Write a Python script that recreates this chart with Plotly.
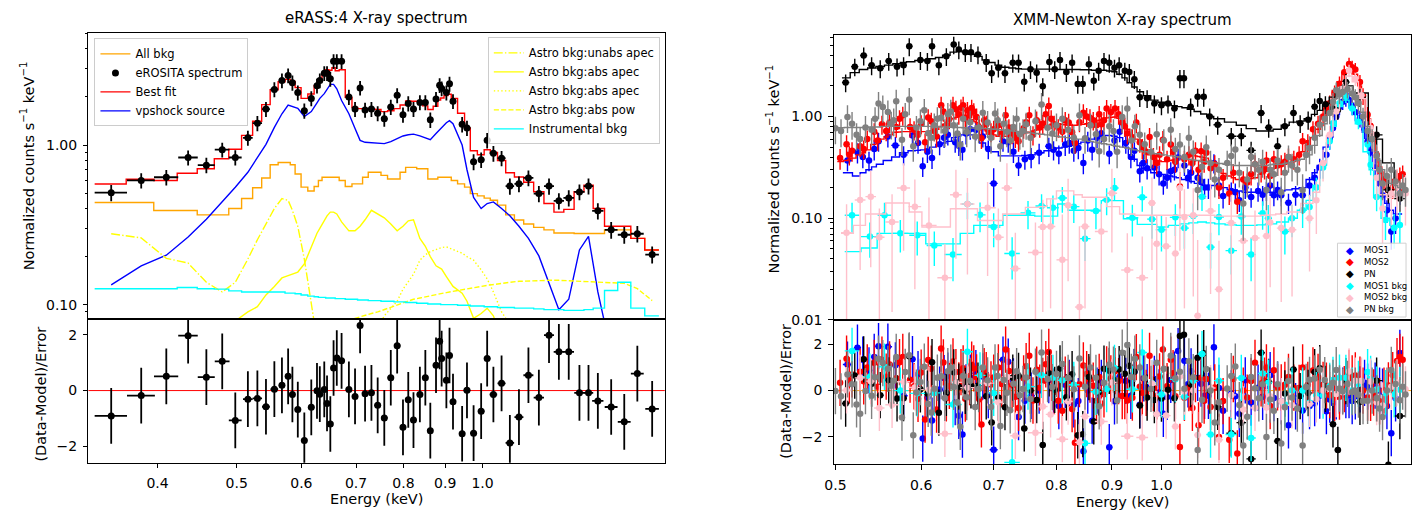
import plotly.graph_objects as go

# ---------------- eRASS:4 (eROSITA) spectrum ----------------
E_ero = [0.351, 0.382, 0.410, 0.436, 0.459, 0.480, 0.498, 0.516, 0.530, 0.543,
         0.556, 0.568, 0.578, 0.585, 0.594, 0.605, 0.617, 0.627, 0.632, 0.640,
         0.645, 0.651, 0.657, 0.663, 0.672, 0.686, 0.698, 0.708, 0.718, 0.731,
         0.744, 0.758, 0.772, 0.786, 0.799, 0.811, 0.823, 0.838, 0.851, 0.863,
         0.877, 0.886, 0.891, 0.903, 0.911, 0.920, 0.944, 0.957, 0.975, 0.996,
         1.013, 1.031, 1.055, 1.080, 1.108, 1.138, 1.172, 1.206, 1.240, 1.275,
         1.314, 1.348, 1.384, 1.437, 1.491, 1.547, 1.613]
dE_ero = [0.016, 0.015, 0.014, 0.012, 0.011, 0.010, 0.009, 0.007, 0.007, 0.006,
          0.006, 0.005, 0.004, 0.004, 0.005, 0.005, 0.005, 0.004, 0.003, 0.003,
          0.003, 0.003, 0.003, 0.004, 0.006, 0.006, 0.005, 0.005, 0.006, 0.006,
          0.007, 0.007, 0.007, 0.007, 0.006, 0.006, 0.007, 0.007, 0.006, 0.006,
          0.006, 0.004, 0.004, 0.005, 0.004, 0.006, 0.008, 0.009, 0.009, 0.009,
          0.009, 0.011, 0.012, 0.013, 0.014, 0.016, 0.017, 0.017, 0.018, 0.019,
          0.019, 0.018, 0.022, 0.026, 0.027, 0.028, 0.031]
flux_ero = [0.503, 0.600, 0.628, 0.835, 0.748, 0.935, 0.835, 1.11, 1.37, 1.68,
            2.23, 2.54, 2.73, 2.46, 2.13, 1.64, 1.96, 2.35, 2.54, 2.82,
            2.82, 2.60, 3.35, 3.35, 3.35, 2.00, 1.68, 2.28, 1.66, 1.68,
            1.58, 1.46, 1.73, 2.05, 1.55, 1.82, 1.68, 1.85, 1.85, 1.44,
            1.94, 2.37, 2.26, 2.13, 2.42, 1.88, 1.35, 1.28, 0.785, 0.808,
            1.07, 0.887, 0.827, 0.553, 0.571, 0.622, 0.496, 0.553, 0.447, 0.466,
            0.508, 0.553, 0.387, 0.294, 0.274, 0.278, 0.206]
err_ero = [0.058, 0.066, 0.07, 0.09, 0.083, 0.10, 0.092, 0.12, 0.15, 0.18,
           0.24, 0.27, 0.29, 0.27, 0.23, 0.18, 0.21, 0.25, 0.27, 0.30,
           0.30, 0.28, 0.35, 0.35, 0.35, 0.22, 0.18, 0.24, 0.18, 0.18,
           0.17, 0.16, 0.19, 0.22, 0.17, 0.2, 0.18, 0.2, 0.2, 0.16,
           0.21, 0.25, 0.24, 0.23, 0.26, 0.2, 0.15, 0.14, 0.09, 0.09,
           0.12, 0.1, 0.09, 0.065, 0.065, 0.07, 0.058, 0.065, 0.052, 0.054,
           0.058, 0.063, 0.045, 0.035, 0.033, 0.033, 0.025]
resid_ero = [-0.91, -0.18, 0.51, 1.97, 0.48, 1.05, -1.07, -0.31, -0.28, -0.58,
             0.05, 0.19, 0.51, -0.14, -0.68, -1.79, -0.60, -0.01, -0.13, 0.04,
             -0.46, -1.20, 0.81, 1.17, 1.07, 0.04, -0.21, 2.34, -0.11, -0.08,
             -0.53, -0.98, 0.46, 1.61, -1.32, -0.33, -1.06, -0.14, 0.46, -1.44,
             0.91, 1.77, 1.15, 0.37, 1.26, -0.40, -1.55, 0.01, -1.53, -0.74,
             1.15, -0.14, 0.26, -1.88, -0.95, 0.55, -0.25, 1.99, 1.39, 1.39,
             -0.08, -0.08, -0.37, -0.59, -1.12, 0.61, -0.66]
fit_ero = [0.57, 0.61, 0.60, 0.665, 0.71, 0.82, 0.94, 1.15, 1.41, 1.79,
           2.22, 2.49, 2.58, 2.50, 2.29, 1.96, 2.09, 2.35, 2.58, 2.81,
           2.96, 2.94, 3.05, 2.92, 2.96, 1.99, 1.72, 1.69, 1.68, 1.69,
           1.67, 1.62, 1.64, 1.69, 1.78, 1.89, 1.88, 1.88, 1.76, 1.67,
           1.75, 1.91, 1.97, 2.04, 2.08, 1.96, 1.58, 1.28, 0.92, 0.87,
           0.935, 0.90, 0.80, 0.67, 0.63, 0.585, 0.51, 0.43, 0.38, 0.395,
           0.51, 0.56, 0.40, 0.31, 0.31, 0.26, 0.22]
bkg_all_ero = [0.436, 0.436, 0.389, 0.389, 0.365, 0.365, 0.40, 0.462, 0.54, 0.622,
               0.752, 0.777, 0.777, 0.752, 0.659, 0.545, 0.515, 0.55, 0.60, 0.628,
               0.628, 0.628, 0.628, 0.628, 0.60, 0.55, 0.571, 0.571, 0.628, 0.675,
               0.675, 0.645, 0.613, 0.613, 0.675, 0.724, 0.724, 0.71, 0.71, 0.613,
               0.613, 0.628, 0.628, 0.628, 0.628, 0.60, 0.571, 0.545, 0.496, 0.48,
               0.465, 0.451, 0.42, 0.365, 0.339, 0.32, 0.305, 0.294, 0.281, 0.281,
               0.279, 0.279, 0.279, 0.294, 0.294, 0.26, 0.22]
bkg_instr_ero = [0.1256, 0.1256, 0.1256, 0.128, 0.1256, 0.125, 0.122, 0.12, 0.12, 0.12,
                 0.12, 0.12, 0.118, 0.118, 0.117, 0.115, 0.113, 0.112, 0.111, 0.111,
                 0.110, 0.110, 0.110, 0.109, 0.109, 0.108, 0.108, 0.107, 0.107, 0.106,
                 0.106, 0.105, 0.105, 0.104, 0.104, 0.103, 0.103, 0.102, 0.102, 0.101,
                 0.101, 0.101, 0.100, 0.100, 0.100, 0.100, 0.099, 0.099, 0.098, 0.098,
                 0.097, 0.097, 0.096, 0.096, 0.095, 0.095, 0.094, 0.093, 0.093, 0.092,
                 0.092, 0.093, 0.095, 0.1225, 0.138, 0.095, 0.085]
vpshock_ero = [0.133, 0.175, 0.204, 0.265, 0.343, 0.44, 0.544, 0.675, 0.84, 1.01,
               1.29, 1.57, 1.78, 1.75, 1.70, 1.51, 1.62, 1.84, 1.96, 2.10,
               2.22, 2.40, 2.40, 2.25, 1.90, 1.57, 1.27, 1.07, 1.04, 1.03,
               1.02, 1.02, 1.05, 1.09, 1.14, 1.16, 1.17, 1.14, 1.11, 1.08,
               1.18, 1.25, 1.30, 1.38, 1.42, 1.36, 1.0, 0.70, 0.47, 0.40,
               0.43, 0.44, 0.40, 0.36, 0.31, 0.26, 0.202, 0.138, 0.093, 0.108,
               0.22, 0.268, 0.12, 0.05, 0.03, 0.02, 0.012]
astro_unabs_apec = [0.278, 0.262, 0.195, 0.182, 0.138, 0.12, 0.138, 0.193, 0.255, 0.324,
                    0.40, 0.462, 0.45, 0.39, 0.309, 0.193, 0.104, 0.06, 0.035]
astro_abs_apec = [0.02, 0.025, 0.03, 0.04, 0.05, 0.06, 0.079, 0.09, 0.097, 0.115,
                  0.13, 0.147, 0.152, 0.155, 0.16, 0.18, 0.23, 0.28, 0.30, 0.34,
                  0.36, 0.38, 0.38, 0.37, 0.33, 0.29, 0.29, 0.31, 0.34, 0.39,
                  0.37, 0.35, 0.32, 0.29, 0.31, 0.335, 0.34, 0.26, 0.232, 0.20,
                  0.175, 0.17, 0.167, 0.15, 0.14, 0.13, 0.118, 0.105, 0.082, 0.088,
                  0.095, 0.085, 0.06, 0.045, 0.035, 0.03, 0.025, 0.02, 0.018, 0.016,
                  0.015, 0.014, 0.013, 0.012, 0.011, 0.010, 0.009]
astro_abs_apec_hot = [0.005, 0.006, 0.007, 0.008, 0.009, 0.01, 0.011, 0.012, 0.013, 0.014,
                      0.016, 0.018, 0.02, 0.021, 0.023, 0.025, 0.027, 0.029, 0.031, 0.033,
                      0.035, 0.037, 0.039, 0.041, 0.044, 0.048, 0.052, 0.056, 0.06, 0.066,
                      0.072, 0.085, 0.095, 0.105, 0.125, 0.14, 0.155, 0.19, 0.205, 0.215,
                      0.222, 0.226, 0.228, 0.23, 0.226, 0.222, 0.21, 0.20, 0.19, 0.165,
                      0.145, 0.12, 0.09, 0.075, 0.06, 0.05, 0.04, 0.03, 0.025, 0.02,
                      0.016, 0.013, 0.011, 0.009, 0.008, 0.007, 0.006]
astro_abs_pow = [0.01, 0.012, 0.015, 0.018, 0.02, 0.023, 0.026, 0.03, 0.033, 0.036,
                 0.04, 0.043, 0.045, 0.047, 0.05, 0.053, 0.056, 0.059, 0.061, 0.063,
                 0.065, 0.067, 0.069, 0.072, 0.076, 0.08, 0.082, 0.084, 0.086, 0.088,
                 0.09, 0.093, 0.096, 0.099, 0.102, 0.105, 0.108, 0.11, 0.112, 0.114,
                 0.116, 0.117, 0.118, 0.119, 0.12, 0.121, 0.123, 0.125, 0.127, 0.13,
                 0.132, 0.134, 0.136, 0.138, 0.14, 0.141, 0.142, 0.142, 0.142, 0.141,
                 0.141, 0.14, 0.139, 0.138, 0.136, 0.126, 0.106]

# ---------------- XMM-Newton spectra ----------------
# MOS1
E_m1 = [0.513, 0.524, 0.530, 0.537, 0.543, 0.548, 0.559, 0.568, 0.578, 0.589,
        0.596, 0.602, 0.608, 0.614, 0.624, 0.630, 0.635, 0.645, 0.650, 0.655,
        0.660, 0.666, 0.674, 0.684, 0.692, 0.700, 0.714, 0.722, 0.730, 0.738,
        0.748, 0.758, 0.771, 0.787, 0.795, 0.804, 0.815, 0.822, 0.830, 0.838,
        0.847, 0.855, 0.863, 0.872, 0.880, 0.895, 0.905, 0.915, 0.927, 0.937,
        0.944, 0.955, 0.962, 0.970, 0.985, 0.995, 1.004, 1.012, 1.020, 1.028,
        1.036, 1.050, 1.058, 1.065, 1.080, 1.088, 1.096, 1.105, 1.118, 1.130,
        1.140, 1.160, 1.170, 1.180, 1.195, 1.210, 1.228, 1.240, 1.250, 1.260,
        1.270, 1.280, 1.290, 1.310, 1.330, 1.350, 1.370, 1.385, 1.400, 1.420,
        1.430, 1.440, 1.450, 1.460, 1.470, 1.480, 1.490, 1.500, 1.510, 1.525,
        1.540, 1.550, 1.560, 1.575, 1.590, 1.600, 1.615, 1.630, 1.645, 1.660]
dE_m1 = [0.005, 0.004, 0.003, 0.003, 0.003, 0.004, 0.005, 0.005, 0.005, 0.004,
         0.004, 0.003, 0.003, 0.004, 0.004, 0.003, 0.004, 0.004, 0.003, 0.003,
         0.003, 0.004, 0.005, 0.005, 0.005, 0.006, 0.006, 0.004, 0.004, 0.005,
         0.005, 0.006, 0.007, 0.006, 0.004, 0.005, 0.005, 0.004, 0.004, 0.004,
         0.004, 0.004, 0.004, 0.004, 0.006, 0.006, 0.005, 0.006, 0.006, 0.005,
         0.004, 0.004, 0.004, 0.006, 0.006, 0.005, 0.004, 0.004, 0.004, 0.004,
         0.006, 0.006, 0.004, 0.006, 0.004, 0.004, 0.004, 0.005, 0.006, 0.006,
         0.008, 0.008, 0.006, 0.006, 0.008, 0.008, 0.008, 0.006, 0.005, 0.005,
         0.005, 0.005, 0.008, 0.01, 0.01, 0.01, 0.008, 0.008, 0.008, 0.006,
         0.005, 0.005, 0.005, 0.005, 0.005, 0.005, 0.005, 0.005, 0.006, 0.007,
         0.006, 0.005, 0.006, 0.006, 0.006, 0.006, 0.007, 0.007, 0.007, 0.008]
flux_m1 = [0.37, 0.445, 0.40, 0.37, 0.48, 0.57, 0.635, 0.52, 0.42, 0.65,
           0.55, 0.325, 0.45, 0.39, 0.535, 0.62, 0.66, 0.56, 0.52, 0.47,
           0.68, 0.75, 0.74, 0.635, 0.48, 0.22, 0.57, 0.56, 0.45, 0.33,
           0.38, 0.40, 0.44, 0.51, 0.47, 0.43, 0.53, 0.55, 0.46, 0.49,
           0.35, 0.58, 0.47, 0.62, 0.685, 0.43, 0.58, 0.71, 0.55, 0.40,
           0.46, 0.29, 0.35, 0.31, 0.315, 0.27, 0.22, 0.25, 0.29, 0.30,
           0.395, 0.33, 0.25, 0.28, 0.25, 0.23, 0.20, 0.20, 0.35, 0.21,
           0.165, 0.185, 0.18, 0.15, 0.20, 0.162, 0.185, 0.17, 0.188, 0.21,
           0.168, 0.19, 0.168, 0.142, 0.17, 0.168, 0.21, 0.25, 0.315, 0.42,
           0.6, 0.77, 1.0, 1.25, 1.4, 1.50, 1.45, 1.25, 1.1, 0.96,
           0.75, 0.57, 0.45, 0.315, 0.22, 0.168, 0.12, 0.074, 0.1, 0.175]
err_m1 = [0.08, 0.1, 0.09, 0.08, 0.11, 0.12, 0.14, 0.11, 0.09, 0.14,
          0.12, 0.07, 0.1, 0.085, 0.12, 0.13, 0.14, 0.12, 0.11, 0.1,
          0.15, 0.16, 0.16, 0.14, 0.1, 0.09, 0.12, 0.12, 0.1, 0.07,
          0.08, 0.09, 0.1, 0.11, 0.1, 0.09, 0.12, 0.12, 0.1, 0.11,
          0.08, 0.13, 0.1, 0.13, 0.15, 0.09, 0.13, 0.15, 0.12, 0.09,
          0.1, 0.065, 0.075, 0.07, 0.07, 0.06, 0.05, 0.055, 0.065, 0.065,
          0.085, 0.07, 0.055, 0.06, 0.055, 0.05, 0.045, 0.045, 0.075, 0.045,
          0.04, 0.04, 0.04, 0.035, 0.045, 0.035, 0.04, 0.037, 0.04, 0.045,
          0.037, 0.04, 0.037, 0.032, 0.037, 0.037, 0.045, 0.055, 0.07, 0.09,
          0.13, 0.15, 0.2, 0.22, 0.24, 0.25, 0.25, 0.22, 0.2, 0.18,
          0.15, 0.12, 0.1, 0.07, 0.05, 0.04, 0.03, 0.025, 0.03, 0.04]
model_m1 = [0.28, 0.26, 0.28, 0.30, 0.32, 0.34, 0.37, 0.40, 0.44, 0.46,
            0.465, 0.47, 0.48, 0.50, 0.53, 0.55, 0.57, 0.62, 0.64, 0.66,
            0.66, 0.66, 0.62, 0.55, 0.50, 0.45, 0.41, 0.41, 0.41, 0.41,
            0.415, 0.42, 0.44, 0.46, 0.475, 0.49, 0.50, 0.51, 0.52, 0.54,
            0.56, 0.58, 0.60, 0.62, 0.635, 0.65, 0.64, 0.62, 0.50, 0.42,
            0.38, 0.33, 0.31, 0.30, 0.28, 0.275, 0.27, 0.265, 0.26, 0.255,
            0.25, 0.24, 0.235, 0.23, 0.22, 0.215, 0.21, 0.21, 0.21, 0.205,
            0.20, 0.19, 0.19, 0.185, 0.18, 0.18, 0.18, 0.18, 0.18, 0.18,
            0.18, 0.18, 0.185, 0.19, 0.195, 0.20, 0.24, 0.28, 0.33, 0.50,
            0.65, 0.85, 1.05, 1.25, 1.4, 1.55, 1.5, 1.35, 1.15, 0.95,
            0.7, 0.55, 0.42, 0.30, 0.22, 0.17, 0.14, 0.12, 0.11, 0.11]

# MOS2
E_m2 = [0.505, 0.512, 0.515, 0.518, 0.527, 0.531, 0.535, 0.543, 0.547, 0.552,
        0.557, 0.561, 0.569, 0.573, 0.577, 0.586, 0.591, 0.596, 0.600, 0.605,
        0.609, 0.613, 0.617, 0.620, 0.626, 0.629, 0.633, 0.637, 0.642, 0.646,
        0.650, 0.653, 0.656, 0.659, 0.662, 0.665, 0.668, 0.671, 0.675, 0.679,
        0.682, 0.686, 0.689, 0.696, 0.700, 0.707, 0.712, 0.718, 0.723, 0.728,
        0.733, 0.738, 0.746, 0.750, 0.755, 0.761, 0.767, 0.772, 0.777, 0.782,
        0.787, 0.791, 0.796, 0.803, 0.810, 0.815, 0.821, 0.827, 0.832, 0.840,
        0.847, 0.853, 0.859, 0.865, 0.871, 0.876, 0.880, 0.885, 0.890, 0.898,
        0.906, 0.913, 0.920, 0.925, 0.930, 0.940, 0.948, 0.955, 0.960, 0.968,
        0.975, 0.983, 0.990, 0.996, 1.003, 1.012, 1.020, 1.025, 1.030, 1.040,
        1.050, 1.060, 1.068, 1.075, 1.082, 1.088, 1.095, 1.100, 1.110, 1.120,
        1.130, 1.140, 1.155, 1.165, 1.175, 1.190, 1.200, 1.210, 1.220, 1.236,
        1.245, 1.250, 1.260, 1.270, 1.280, 1.290, 1.300, 1.310, 1.325, 1.340,
        1.350, 1.365, 1.380, 1.395, 1.410, 1.420, 1.430, 1.445, 1.460, 1.475,
        1.490, 1.500, 1.510, 1.525, 1.535, 1.550, 1.560, 1.570, 1.580, 1.590,
        1.605, 1.620, 1.635, 1.650, 1.660, 1.670]
dE_m2 = [0.003, 0.003, 0.002, 0.002, 0.003, 0.002, 0.003, 0.003, 0.002, 0.003,
         0.003, 0.003, 0.003, 0.002, 0.003, 0.004, 0.003, 0.003, 0.003, 0.003,
         0.002, 0.002, 0.002, 0.002, 0.002, 0.002, 0.002, 0.002, 0.002, 0.002,
         0.002, 0.002, 0.002, 0.002, 0.002, 0.002, 0.002, 0.002, 0.002, 0.002,
         0.002, 0.002, 0.003, 0.003, 0.003, 0.003, 0.003, 0.003, 0.003, 0.003,
         0.003, 0.004, 0.003, 0.003, 0.003, 0.003, 0.003, 0.003, 0.003, 0.003,
         0.003, 0.003, 0.003, 0.004, 0.003, 0.003, 0.003, 0.003, 0.004, 0.004,
         0.003, 0.003, 0.003, 0.003, 0.003, 0.003, 0.003, 0.003, 0.004, 0.004,
         0.004, 0.003, 0.003, 0.003, 0.004, 0.004, 0.004, 0.003, 0.003, 0.004,
         0.004, 0.004, 0.003, 0.004, 0.004, 0.004, 0.003, 0.003, 0.004, 0.005,
         0.005, 0.004, 0.004, 0.004, 0.003, 0.003, 0.003, 0.004, 0.005, 0.005,
         0.005, 0.006, 0.006, 0.005, 0.006, 0.006, 0.005, 0.005, 0.006, 0.006,
         0.004, 0.004, 0.005, 0.005, 0.005, 0.005, 0.005, 0.006, 0.007, 0.006,
         0.006, 0.007, 0.007, 0.007, 0.006, 0.005, 0.006, 0.007, 0.007, 0.007,
         0.006, 0.005, 0.006, 0.006, 0.006, 0.006, 0.005, 0.005, 0.005, 0.006,
         0.007, 0.007, 0.007, 0.006, 0.005, 0.005]
flux_m2 = [0.39, 0.535, 0.42, 0.46, 0.51, 0.48, 0.60, 0.71, 0.58, 0.84,
           0.72, 0.875, 0.79, 0.95, 1.03, 0.79, 0.74, 0.66, 0.85, 0.56,
           0.98, 0.90, 0.72, 0.635, 1.29, 1.12, 0.82, 0.95, 1.29, 1.18,
           1.05, 1.22, 1.29, 0.95, 1.15, 1.05, 1.21, 1.12, 0.99, 0.78,
           0.61, 0.92, 0.84, 0.71, 0.75, 0.82, 0.68, 1.03, 0.78, 0.685,
           0.62, 0.57, 0.765, 0.88, 1.03, 0.66, 0.92, 0.78, 0.855, 1.05,
           1.27, 0.95, 0.84, 0.78, 0.71, 0.92, 0.875, 0.70, 0.55, 0.88,
           1.09, 1.0, 0.97, 0.92, 0.82, 1.05, 0.84, 0.92, 1.20, 1.1,
           1.20, 1.05, 0.875, 0.80, 0.685, 0.62, 0.875, 0.56, 0.49, 0.45,
           0.63, 0.40, 0.35, 0.42, 0.59, 0.38, 0.53, 0.45, 0.36, 0.205,
           0.38, 0.42, 0.35, 0.46, 0.30, 0.455, 0.36, 0.44, 0.31, 0.34,
           0.20, 0.25, 0.175, 0.28, 0.145, 0.24, 0.225, 0.27, 0.34, 0.29,
           0.31, 0.37, 0.26, 0.38, 0.33, 0.34, 0.36, 0.40, 0.38, 0.42,
           0.57, 0.55, 0.75, 0.85, 1.0, 1.2, 1.35, 1.7, 2.1, 2.73,
           3.28, 3.05, 2.9, 2.18, 1.6, 1.04, 0.8, 0.59, 0.42, 0.29,
           0.24, 0.19, 0.2, 0.24, 0.26, 0.27]
err_m2 = [0.09, 0.12, 0.09, 0.1, 0.11, 0.1, 0.13, 0.15, 0.12, 0.18,
          0.15, 0.19, 0.17, 0.2, 0.22, 0.17, 0.16, 0.14, 0.18, 0.12,
          0.2, 0.19, 0.15, 0.14, 0.27, 0.23, 0.18, 0.2, 0.27, 0.25,
          0.22, 0.25, 0.27, 0.2, 0.24, 0.22, 0.25, 0.23, 0.21, 0.16,
          0.13, 0.19, 0.18, 0.15, 0.16, 0.18, 0.14, 0.22, 0.16, 0.15,
          0.13, 0.12, 0.16, 0.18, 0.22, 0.14, 0.2, 0.16, 0.18, 0.22,
          0.27, 0.2, 0.18, 0.16, 0.15, 0.19, 0.19, 0.15, 0.12, 0.18,
          0.23, 0.21, 0.21, 0.19, 0.18, 0.22, 0.18, 0.19, 0.25, 0.23,
          0.25, 0.22, 0.19, 0.17, 0.15, 0.13, 0.19, 0.12, 0.11, 0.1,
          0.14, 0.09, 0.08, 0.09, 0.13, 0.08, 0.12, 0.1, 0.08, 0.08,
          0.08, 0.09, 0.08, 0.1, 0.07, 0.1, 0.08, 0.1, 0.07, 0.075,
          0.045, 0.055, 0.04, 0.06, 0.035, 0.05, 0.05, 0.06, 0.075, 0.065,
          0.07, 0.08, 0.06, 0.08, 0.07, 0.075, 0.08, 0.085, 0.08, 0.09,
          0.12, 0.12, 0.15, 0.17, 0.2, 0.23, 0.26, 0.32, 0.38, 0.45,
          0.5, 0.48, 0.46, 0.38, 0.3, 0.2, 0.16, 0.12, 0.09, 0.065,
          0.05, 0.045, 0.045, 0.055, 0.055, 0.06]
model_m2 = [0.36, 0.37, 0.38, 0.39, 0.42, 0.44, 0.47, 0.53, 0.56, 0.60,
            0.63, 0.66, 0.70, 0.705, 0.71, 0.71, 0.71, 0.71, 0.71, 0.71,
            0.715, 0.72, 0.73, 0.75, 0.80, 0.84, 0.88, 0.91, 0.95, 0.98,
            1.0, 1.02, 1.03, 1.02, 1.0, 0.97, 0.93, 0.90, 0.87, 0.84,
            0.80, 0.76, 0.72, 0.67, 0.66, 0.64, 0.64, 0.64, 0.645, 0.65,
            0.655, 0.66, 0.68, 0.69, 0.70, 0.72, 0.74, 0.76, 0.78, 0.80,
            0.82, 0.84, 0.85, 0.85, 0.84, 0.83, 0.82, 0.82, 0.82, 0.83,
            0.84, 0.85, 0.87, 0.88, 0.90, 0.92, 0.94, 0.95, 0.97, 0.98,
            0.99, 0.96, 0.92, 0.84, 0.75, 0.66, 0.60, 0.54, 0.50, 0.46,
            0.42, 0.39, 0.37, 0.365, 0.36, 0.365, 0.37, 0.375, 0.38, 0.40,
            0.405, 0.41, 0.41, 0.41, 0.405, 0.40, 0.395, 0.39, 0.36, 0.33,
            0.29, 0.275, 0.26, 0.25, 0.24, 0.24, 0.24, 0.245, 0.25, 0.27,
            0.28, 0.29, 0.30, 0.31, 0.32, 0.33, 0.34, 0.35, 0.37, 0.41,
            0.45, 0.52, 0.62, 0.75, 0.95, 1.15, 1.4, 1.8, 2.2, 2.7,
            2.9, 2.8, 2.6, 2.0, 1.6, 1.1, 0.85, 0.6, 0.45, 0.32,
            0.24, 0.18, 0.17, 0.17, 0.18, 0.19]

# PN
E_pn = [0.511, 0.521, 0.531, 0.540, 0.550, 0.560, 0.570, 0.578, 0.585, 0.599,
        0.608, 0.614, 0.623, 0.633, 0.643, 0.650, 0.659, 0.667, 0.677, 0.689,
        0.697, 0.707, 0.717, 0.729, 0.738, 0.747, 0.757, 0.767, 0.777, 0.788,
        0.797, 0.806, 0.817, 0.827, 0.837, 0.846, 0.857, 0.866, 0.875, 0.885,
        0.895, 0.905, 0.914, 0.925, 0.934, 0.944, 0.955, 0.970, 0.985, 1.000,
        1.014, 1.028, 1.040, 1.049, 1.064, 1.080, 1.094, 1.108, 1.127, 1.160,
        1.185, 1.210, 1.236, 1.256, 1.280, 1.300, 1.324, 1.343, 1.366, 1.385,
        1.400, 1.417, 1.440, 1.455, 1.480, 1.525, 1.580, 1.620, 1.660]
dE_pn = [0.004, 0.004, 0.004, 0.004, 0.004, 0.004, 0.004, 0.004, 0.004, 0.004,
         0.004, 0.004, 0.004, 0.004, 0.004, 0.004, 0.004, 0.004, 0.005, 0.005,
         0.005, 0.005, 0.005, 0.005, 0.005, 0.005, 0.005, 0.005, 0.005, 0.005,
         0.005, 0.005, 0.005, 0.005, 0.005, 0.005, 0.005, 0.005, 0.005, 0.005,
         0.005, 0.005, 0.005, 0.005, 0.005, 0.006, 0.007, 0.007, 0.007, 0.007,
         0.007, 0.007, 0.006, 0.006, 0.007, 0.007, 0.007, 0.008, 0.01, 0.012,
         0.012, 0.012, 0.01, 0.01, 0.01, 0.01, 0.01, 0.01, 0.01, 0.01,
         0.008, 0.01, 0.01, 0.01, 0.012, 0.02, 0.02, 0.02, 0.02]
flux_pn = [2.16, 3.09, 3.98, 3.19, 2.98, 3.51, 3.09, 3.19, 4.90, 3.59,
           3.51, 4.90, 3.19, 3.92, 5.09, 4.55, 4.29, 4.29, 4.07, 3.43,
           2.67, 3.02, 2.67, 3.38, 3.38, 2.20, 2.92, 2.70, 1.98, 3.43,
           2.92, 3.59, 2.74, 3.38, 2.09, 2.09, 3.26, 2.25, 2.81, 3.51,
           3.38, 3.02, 3.19, 2.81, 2.74, 2.33, 1.55, 1.51, 1.34, 1.29,
           1.34, 1.20, 2.38, 2.38, 1.25, 1.56, 1.56, 1.00, 0.83, 0.64,
           0.64, 0.465, 1.08, 0.78, 0.51, 0.80, 1.08, 0.86, 0.93, 1.25,
           1.42, 1.32, 1.20, 1.16, 2.18, 1.55, 0.66, 0.19, 0.156]
err_pn = [0.43, 0.6, 0.8, 0.64, 0.6, 0.7, 0.62, 0.64, 0.98, 0.72,
          0.7, 0.98, 0.64, 0.78, 1.0, 0.9, 0.86, 0.86, 0.81, 0.69,
          0.53, 0.6, 0.53, 0.68, 0.68, 0.44, 0.58, 0.54, 0.4, 0.69,
          0.58, 0.72, 0.55, 0.68, 0.42, 0.42, 0.65, 0.45, 0.56, 0.7,
          0.68, 0.6, 0.64, 0.56, 0.55, 0.47, 0.31, 0.3, 0.27, 0.26,
          0.27, 0.24, 0.48, 0.48, 0.25, 0.31, 0.31, 0.2, 0.17, 0.13,
          0.13, 0.1, 0.22, 0.16, 0.11, 0.16, 0.22, 0.17, 0.19, 0.25,
          0.28, 0.26, 0.24, 0.23, 0.44, 0.31, 0.14, 0.05, 0.04]
model_pn = [2.4, 2.7, 2.9, 3.0, 3.1, 3.2, 3.3, 3.4, 3.45, 3.55,
            3.6, 3.7, 3.8, 4.0, 4.3, 4.4, 4.3, 4.1, 3.9, 3.6,
            3.4, 3.2, 3.05, 3.0, 2.95, 2.92, 2.92, 2.92, 2.92, 2.92,
            2.9, 2.9, 2.9, 2.9, 2.9, 2.88, 2.88, 2.85, 2.85, 2.85,
            2.8, 2.75, 2.6, 2.4, 2.15, 1.95, 1.75, 1.6, 1.45, 1.38,
            1.33, 1.28, 1.25, 1.22, 1.18, 1.12, 1.06, 1.0, 0.95, 0.88,
            0.82, 0.76, 0.72, 0.72, 0.75, 0.82, 0.88, 0.9, 0.95, 1.05,
            1.15, 1.3, 1.55, 1.75, 2.0, 1.7, 0.6, 0.35, 0.2]

# MOS1 background
E_m1b = [0.518, 0.538, 0.555, 0.574, 0.595, 0.617, 0.642, 0.662, 0.680, 0.700,
         0.728, 0.753, 0.775, 0.794, 0.810, 0.830, 0.850, 0.870, 0.890, 0.905,
         0.940, 0.960, 0.980, 1.000, 1.030, 1.050, 1.070, 1.090, 1.110, 1.130,
         1.160, 1.185, 1.210, 1.240, 1.255, 1.300, 1.320, 1.350, 1.370, 1.390,
         1.410, 1.430, 1.440, 1.460, 1.480, 1.500, 1.520, 1.550, 1.560, 1.580,
         1.610, 1.640, 1.660]
dE_m1b = [0.008, 0.01, 0.008, 0.01, 0.01, 0.01, 0.012, 0.008, 0.008, 0.01,
          0.012, 0.012, 0.01, 0.01, 0.008, 0.01, 0.01, 0.01, 0.008, 0.008,
          0.012, 0.01, 0.01, 0.012, 0.012, 0.01, 0.01, 0.01, 0.01, 0.012,
          0.014, 0.012, 0.012, 0.012, 0.01, 0.012, 0.01, 0.01, 0.008, 0.006,
          0.006, 0.005, 0.005, 0.005, 0.005, 0.005, 0.005, 0.006, 0.006, 0.008,
          0.01, 0.012, 0.01]
flux_m1b = [0.107, 0.066, 0.107, 0.071, 0.068, 0.054, 0.044, 0.138, 0.108, 0.082,
            0.045, 0.113, 0.132, 0.127, 0.158, 0.13, 0.063, 0.118, 0.152, 0.198,
            0.101, 0.161, 0.098, 0.077, 0.102, 0.08, 0.105, 0.163, 0.052, 0.103,
            0.048, 0.104, 0.044, 0.112, 0.10, 0.074, 0.10, 0.12, 0.129, 0.20,
            0.315, 0.57, 0.86, 1.35, 1.56, 1.20, 0.89, 0.53, 0.335, 0.162,
            0.096, 0.08, 0.086]
err_m1b = [0.035, 0.025, 0.035, 0.025, 0.025, 0.02, 0.02, 0.04, 0.035, 0.03,
           0.02, 0.035, 0.04, 0.04, 0.045, 0.04, 0.025, 0.04, 0.045, 0.05,
           0.035, 0.045, 0.035, 0.03, 0.035, 0.03, 0.035, 0.045, 0.02, 0.035,
           0.02, 0.035, 0.02, 0.035, 0.035, 0.03, 0.035, 0.04, 0.04, 0.05,
           0.07, 0.1, 0.13, 0.18, 0.2, 0.17, 0.14, 0.1, 0.07, 0.045,
           0.035, 0.03, 0.03]
model_m1b = [0.047, 0.051, 0.071, 0.071, 0.071, 0.056, 0.056, 0.071, 0.085, 0.085,
             0.107, 0.107, 0.105, 0.105, 0.138, 0.12, 0.12, 0.12, 0.149, 0.149,
             0.099, 0.087, 0.087, 0.082, 0.085, 0.088, 0.09, 0.092, 0.09, 0.088,
             0.086, 0.085, 0.085, 0.086, 0.088, 0.092, 0.1, 0.12, 0.15, 0.21,
             0.33, 0.55, 0.8, 1.25, 1.45, 1.2, 0.85, 0.45, 0.3, 0.16,
             0.1, 0.085, 0.085]

# MOS2 background
E_m2b = [0.512, 0.527, 0.539, 0.549, 0.564, 0.578, 0.592, 0.610, 0.631, 0.646,
         0.662, 0.691, 0.707, 0.720, 0.733, 0.765, 0.777, 0.790, 0.810, 0.820,
         0.840, 0.850, 0.880, 0.900, 0.930, 0.960, 0.980, 0.990, 1.010, 1.030,
         1.040, 1.050, 1.070, 1.080, 1.110, 1.130, 1.160, 1.190, 1.220, 1.250,
         1.260, 1.290, 1.320, 1.370, 1.390, 1.410, 1.430, 1.450, 1.470, 1.490,
         1.510, 1.530, 1.560, 1.580, 1.600, 1.630, 1.650, 1.680]
dE_m2b = [0.006, 0.006, 0.006, 0.006, 0.008, 0.008, 0.008, 0.01, 0.01, 0.008,
          0.01, 0.012, 0.008, 0.008, 0.008, 0.012, 0.008, 0.008, 0.01, 0.008,
          0.008, 0.008, 0.012, 0.01, 0.012, 0.012, 0.008, 0.008, 0.01, 0.008,
          0.006, 0.006, 0.008, 0.008, 0.012, 0.01, 0.012, 0.012, 0.012, 0.01,
          0.008, 0.012, 0.012, 0.012, 0.008, 0.008, 0.008, 0.006, 0.006, 0.006,
          0.006, 0.008, 0.008, 0.008, 0.01, 0.01, 0.01, 0.01]
flux_m2b = [0.072, 0.151, 0.163, 0.065, 0.092, 0.198, 0.13, 0.085, 0.026, 0.17,
            0.138, 0.127, 0.065, 0.198, 0.032, 0.046, 0.082, 0.083, 0.039, 0.134,
            0.0134, 0.083, 0.074, 0.176, 0.031, 0.026, 0.141, 0.056, 0.053, 0.045,
            0.198, 0.103, 0.107, 0.011, 0.118, 0.020, 0.09, 0.06, 0.064, 0.067,
            0.091, 0.08, 0.077, 0.10, 0.15, 0.35, 0.66, 1.12, 1.88, 2.83,
            2.35, 1.62, 0.77, 0.25, 0.125, 0.175, 0.205, 0.175]
err_m2b = [0.065, 0.12, 0.13, 0.06, 0.08, 0.15, 0.11, 0.075, 0.03, 0.13,
           0.11, 0.1, 0.06, 0.15, 0.04, 0.045, 0.07, 0.07, 0.07, 0.11,
           0.07, 0.07, 0.065, 0.13, 0.04, 0.04, 0.11, 0.05, 0.05, 0.04,
           0.15, 0.09, 0.09, 0.05, 0.1, 0.04, 0.08, 0.055, 0.055, 0.055,
           0.07, 0.065, 0.06, 0.07, 0.08, 0.12, 0.15, 0.2, 0.3, 0.4,
           0.35, 0.28, 0.18, 0.1, 0.07, 0.09, 0.1, 0.09]
model_m2b = [0.071, 0.085, 0.11, 0.11, 0.141, 0.141, 0.115, 0.082, 0.082, 0.124,
             0.124, 0.095, 0.095, 0.11, 0.11, 0.128, 0.13, 0.155, 0.186, 0.186,
             0.17, 0.161, 0.161, 0.13, 0.11, 0.107, 0.107, 0.107, 0.107, 0.107,
             0.107, 0.107, 0.107, 0.107, 0.107, 0.105, 0.105, 0.105, 0.105, 0.107,
             0.108, 0.11, 0.115, 0.14, 0.18, 0.35, 0.65, 1.15, 1.9, 2.5,
             2.2, 1.5, 0.7, 0.3, 0.17, 0.16, 0.17, 0.17]

# PN background
E_pnb = [0.500, 0.506, 0.513, 0.518, 0.523, 0.527, 0.533, 0.540, 0.544, 0.548,
         0.553, 0.559, 0.563, 0.566, 0.569, 0.576, 0.580, 0.585, 0.590, 0.594,
         0.599, 0.604, 0.609, 0.613, 0.617, 0.621, 0.626, 0.631, 0.635, 0.639,
         0.643, 0.648, 0.652, 0.656, 0.661, 0.666, 0.673, 0.678, 0.684, 0.691,
         0.696, 0.702, 0.706, 0.710, 0.715, 0.720, 0.725, 0.730, 0.735, 0.740,
         0.745, 0.750, 0.757, 0.765, 0.775, 0.785, 0.793, 0.800, 0.810, 0.820,
         0.830, 0.840, 0.850, 0.860, 0.870, 0.876, 0.885, 0.895, 0.903, 0.910,
         0.920, 0.930, 0.938, 0.945, 0.955, 0.965, 0.978, 0.990, 1.005, 1.020,
         1.030, 1.040, 1.050, 1.060, 1.070, 1.080, 1.090, 1.100, 1.110, 1.120,
         1.130, 1.150, 1.160, 1.170, 1.180, 1.190, 1.200, 1.210, 1.220, 1.230,
         1.240, 1.250, 1.260, 1.270, 1.280, 1.290, 1.300, 1.310, 1.320, 1.335,
         1.350, 1.360, 1.370, 1.385, 1.400, 1.415, 1.430, 1.440, 1.450, 1.460,
         1.470, 1.485, 1.500, 1.510, 1.520, 1.535, 1.550, 1.565, 1.580, 1.590,
         1.600, 1.615, 1.630, 1.645, 1.660, 1.670, 1.680]
dE_pnb = [0.003, 0.003, 0.003, 0.003, 0.002, 0.002, 0.003, 0.003, 0.002, 0.002,
          0.002, 0.002, 0.002, 0.002, 0.002, 0.003, 0.002, 0.003, 0.002, 0.002,
          0.002, 0.002, 0.002, 0.002, 0.002, 0.002, 0.002, 0.002, 0.002, 0.002,
          0.002, 0.002, 0.002, 0.002, 0.003, 0.003, 0.003, 0.003, 0.003, 0.003,
          0.003, 0.003, 0.002, 0.002, 0.003, 0.003, 0.002, 0.002, 0.002, 0.003,
          0.003, 0.003, 0.004, 0.004, 0.005, 0.005, 0.004, 0.004, 0.005, 0.005,
          0.005, 0.005, 0.005, 0.005, 0.004, 0.004, 0.004, 0.004, 0.004, 0.004,
          0.005, 0.005, 0.004, 0.004, 0.005, 0.005, 0.006, 0.006, 0.007, 0.006,
          0.005, 0.005, 0.005, 0.005, 0.005, 0.005, 0.005, 0.005, 0.005, 0.005,
          0.006, 0.008, 0.006, 0.005, 0.005, 0.005, 0.005, 0.005, 0.005, 0.005,
          0.005, 0.005, 0.005, 0.005, 0.005, 0.005, 0.005, 0.005, 0.006, 0.007,
          0.006, 0.005, 0.006, 0.007, 0.007, 0.007, 0.006, 0.005, 0.005, 0.005,
          0.006, 0.007, 0.006, 0.005, 0.006, 0.007, 0.007, 0.007, 0.006, 0.005,
          0.006, 0.007, 0.007, 0.007, 0.006, 0.005, 0.005]
flux_pnb = [0.765, 0.72, 0.99, 0.85, 0.66, 0.60, 0.78, 0.74, 0.95, 1.34,
            1.24, 1.11, 0.855, 0.92, 1.41, 0.59, 1.05, 1.47, 0.51, 0.78,
            0.90, 1.15, 0.685, 0.62, 0.82, 0.95, 0.97, 0.72, 1.05, 1.12,
            0.82, 0.68, 0.53, 0.95, 0.71, 0.88, 0.635, 0.78, 1.09, 0.875,
            0.62, 1.07, 0.92, 0.51, 0.85, 0.71, 0.58, 0.79, 0.95, 0.67,
            0.72, 0.84, 0.62, 0.90, 1.31, 0.775, 0.68, 0.82, 0.95, 0.74,
            0.62, 1.03, 0.61, 0.82, 0.67, 0.455, 0.60, 0.80, 0.72, 0.45,
            0.99, 1.20, 0.58, 0.80, 0.66, 0.535, 0.45, 0.67, 0.58, 0.74,
            0.48, 0.53, 0.40, 0.62, 0.45, 0.19, 0.32, 0.50, 0.35, 0.24,
            0.30, 0.35, 0.41, 0.475, 0.28, 0.14, 0.24, 0.40, 0.34, 0.30,
            0.36, 0.19, 0.30, 0.27, 0.37, 0.18, 0.28, 0.40, 0.33, 0.30,
            0.19, 0.42, 0.49, 0.62, 0.83, 0.95, 1.08, 1.4, 1.81, 1.65,
            1.74, 1.85, 1.68, 1.55, 1.35, 1.0, 0.72, 0.6, 0.41, 0.3,
            0.22, 0.26, 0.30, 0.23, 0.175, 0.21, 0.19]
err_pnb = [0.23, 0.22, 0.3, 0.26, 0.2, 0.18, 0.23, 0.22, 0.28, 0.4,
           0.37, 0.33, 0.26, 0.28, 0.42, 0.18, 0.31, 0.44, 0.15, 0.23,
           0.27, 0.34, 0.2, 0.19, 0.25, 0.28, 0.29, 0.22, 0.31, 0.34,
           0.25, 0.2, 0.16, 0.28, 0.21, 0.26, 0.19, 0.23, 0.33, 0.26,
           0.19, 0.32, 0.28, 0.15, 0.25, 0.21, 0.17, 0.24, 0.28, 0.2,
           0.22, 0.25, 0.19, 0.27, 0.39, 0.23, 0.2, 0.25, 0.28, 0.22,
           0.19, 0.31, 0.18, 0.25, 0.2, 0.14, 0.18, 0.24, 0.22, 0.14,
           0.3, 0.36, 0.17, 0.24, 0.2, 0.16, 0.14, 0.2, 0.17, 0.22,
           0.14, 0.16, 0.12, 0.19, 0.13, 0.07, 0.1, 0.15, 0.11, 0.08,
           0.09, 0.11, 0.12, 0.14, 0.08, 0.08, 0.08, 0.12, 0.1, 0.09,
           0.11, 0.07, 0.09, 0.08, 0.11, 0.07, 0.09, 0.12, 0.1, 0.09,
           0.08, 0.13, 0.15, 0.19, 0.2, 0.22, 0.24, 0.3, 0.35, 0.33,
           0.33, 0.35, 0.32, 0.3, 0.28, 0.22, 0.18, 0.15, 0.12, 0.09,
           0.07, 0.08, 0.09, 0.07, 0.06, 0.06, 0.06]
model_pnb = [0.77, 0.775, 0.78, 0.78, 0.78, 0.78, 0.785, 0.79, 0.79, 0.79,
             0.80, 0.80, 0.80, 0.80, 0.80, 0.80, 0.80, 0.80, 0.80, 0.80,
             0.80, 0.80, 0.80, 0.80, 0.80, 0.795, 0.79, 0.79, 0.79, 0.785,
             0.78, 0.78, 0.78, 0.775, 0.77, 0.77, 0.77, 0.765, 0.76, 0.76,
             0.755, 0.75, 0.745, 0.74, 0.735, 0.73, 0.725, 0.72, 0.715, 0.71,
             0.705, 0.70, 0.69, 0.68, 0.67, 0.66, 0.65, 0.64, 0.63, 0.62,
             0.61, 0.60, 0.58, 0.57, 0.56, 0.55, 0.54, 0.53, 0.52, 0.51,
             0.50, 0.49, 0.48, 0.47, 0.46, 0.45, 0.44, 0.43, 0.42, 0.41,
             0.405, 0.40, 0.39, 0.38, 0.375, 0.37, 0.36, 0.36, 0.35, 0.35,
             0.345, 0.34, 0.335, 0.33, 0.33, 0.33, 0.33, 0.33, 0.33, 0.33,
             0.33, 0.33, 0.335, 0.34, 0.34, 0.34, 0.345, 0.35, 0.36, 0.37,
             0.38, 0.40, 0.42, 0.52, 0.65, 0.85, 1.05, 1.3, 1.5, 1.62,
             1.75, 1.75, 1.7, 1.55, 1.4, 1.1, 0.8, 0.6, 0.45, 0.37,
             0.3, 0.26, 0.22, 0.21, 0.2, 0.2, 0.2]

# tick labels
ero_xticks = [0.4, 0.5, 0.6, 0.7, 0.8, 0.9, 1.0]
xmm_xticks = [0.5, 0.6, 0.7, 0.8, 0.9, 1.0]

# ---------------- layout helpers ----------------
FONT = "DejaVu Sans"
W, H = 1412, 517


def xdom(a, b):
    return [a / W, b / W]


def ydom(top, bottom):
    return [1 - bottom / H, 1 - top / H]


def px(x):
    return x / W


def py(y):
    return 1 - y / H


def steps(E, dE, y):
    """Histogram-like outline through the bin centres, padded to the outer bin edges."""
    n = len(y)
    xs = [E[0] - dE[0]] + list(E[:n]) + [E[n - 1] + dE[n - 1]]
    ys = [y[0]] + list(y) + [y[-1]]
    return xs, ys


fig = go.Figure()

# ---------------- eRASS:4 main panel ----------------
LW = 1.4
xs, ys = steps(E_ero, dE_ero, bkg_all_ero)
fig.add_trace(go.Scatter(x=xs, y=ys, mode="lines", name="All bkg",
                         line=dict(color="orange", width=LW, shape="hvh"),
                         legend="legend", legendrank=1, xaxis="x", yaxis="y"))
xs, ys = steps(E_ero, dE_ero, fit_ero)
fig.add_trace(go.Scatter(x=xs, y=ys, mode="lines", name="Best fit",
                         line=dict(color="red", width=LW, shape="hvh"),
                         legend="legend", legendrank=3, xaxis="x", yaxis="y"))
fig.add_trace(go.Scatter(x=E_ero, y=vpshock_ero, mode="lines", name="vpshock source",
                         line=dict(color="blue", width=LW),
                         legend="legend", legendrank=4, xaxis="x", yaxis="y"))

yellow = "#FFFF00"
components = [
    ("Astro bkg:unabs apec", astro_unabs_apec, "8.9px,2.2px,1.4px,2.2px", 1),
    ("Astro bkg:abs apec", astro_abs_apec, "solid", 2),
    ("Astro bkg:abs apec", astro_abs_apec_hot, "1.4px,2.3px", 3),
    ("Astro bkg:abs pow", astro_abs_pow, "5.1px,2.2px", 4),
]
for name, vals, dash, rank in components:
    fig.add_trace(go.Scatter(x=E_ero[:len(vals)], y=vals, mode="lines", name=name,
                             line=dict(color=yellow, width=LW, dash=dash),
                             legend="legend2", legendrank=rank, xaxis="x", yaxis="y"))
xs, ys = steps(E_ero, dE_ero, bkg_instr_ero)
fig.add_trace(go.Scatter(x=xs, y=ys, mode="lines", name="Instrumental bkg",
                         line=dict(color="cyan", width=LW, shape="hvh"),
                         legend="legend2", legendrank=5, xaxis="x", yaxis="y"))

fig.add_trace(go.Scatter(x=E_ero, y=flux_ero, mode="markers", name="eROSITA spectrum",
                         marker=dict(color="black", size=7),
                         error_y=dict(type="data", array=err_ero, color="black", thickness=1.8, width=0),
                         error_x=dict(type="data", array=dE_ero, color="black", thickness=1.8, width=0),
                         legend="legend", legendrank=2, xaxis="x", yaxis="y"))

# ---------------- eRASS:4 residuals ----------------
fig.add_trace(go.Scatter(x=E_ero, y=resid_ero, mode="markers", showlegend=False,
                         marker=dict(color="black", size=7),
                         error_y=dict(type="constant", value=1, color="black", thickness=1.8, width=0),
                         error_x=dict(type="data", array=dE_ero, color="black", thickness=1.8, width=0),
                         xaxis="x2", yaxis="y2"))

# ---------------- XMM-Newton panels ----------------
xmm_sets = [
    ("MOS1", "blue", E_m1, dE_m1, flux_m1, err_m1, model_m1),
    ("MOS2", "red", E_m2, dE_m2, flux_m2, err_m2, model_m2),
    ("PN", "black", E_pn, dE_pn, flux_pn, err_pn, model_pn),
    ("MOS1 bkg", "cyan", E_m1b, dE_m1b, flux_m1b, err_m1b, model_m1b),
    ("MOS2 bkg", "pink", E_m2b, dE_m2b, flux_m2b, err_m2b, model_m2b),
    ("PN bkg", "grey", E_pnb, dE_pnb, flux_pnb, err_pnb, model_pnb),
]
for name, col, E, dE, flux, err, model in xmm_sets:
    fig.add_trace(go.Scatter(x=E, y=flux, mode="markers", showlegend=False, name=name,
                             marker=dict(color=col, size=6.5),
                             error_y=dict(type="data", array=err, color=col, thickness=1.4, width=0),
                             error_x=dict(type="data", array=dE, color=col, thickness=1.4, width=0),
                             xaxis="x3", yaxis="y3"))
    xs, ys = steps(E, dE, model)
    fig.add_trace(go.Scatter(x=xs, y=ys, mode="lines", showlegend=False, name=name + " model",
                             line=dict(color=col, width=LW, shape="hvh"),
                             xaxis="x3", yaxis="y3"))

for name, col, E, dE, flux, err, model in xmm_sets:
    resid = [(f - m) / e for f, m, e in zip(flux, model, err)]
    fig.add_trace(go.Scatter(x=E, y=resid, mode="markers", showlegend=False, name=name,
                             marker=dict(color=col, size=6.5),
                             error_y=dict(type="constant", value=1, color=col, thickness=1.4, width=0),
                             error_x=dict(type="data", array=dE, color=col, thickness=1.4, width=0),
                             xaxis="x4", yaxis="y4"))

# ---------------- axes ----------------
tickfont = dict(family=FONT, size=14, color="black")
base = dict(showline=True, linecolor="black", linewidth=1, mirror=True,
            ticks="outside", ticklen=4.5, tickwidth=1, tickcolor="black",
            ticklabelstandoff=3,
            showgrid=False, zeroline=False, tickfont=tickfont)

left_xr = [-0.4825, 0.2231]
right_xr = [-0.3026, 0.2304]
left_x = xdom(80, 660)
right_x = xdom(830, 1411)

minor_log_left = [0.09, 0.2, 0.3, 0.4, 0.5, 0.6, 0.7, 0.8, 0.9, 2, 3, 4, 5]
minor_log_right = [0.02, 0.03, 0.04, 0.05, 0.06, 0.07, 0.08, 0.09,
                   0.2, 0.3, 0.4, 0.5, 0.6, 0.7, 0.8, 0.9, 2, 3, 4, 5, 6]

fig.update_layout(
    xaxis=dict(base, type="log", range=left_xr, domain=left_x, anchor="y",
               showticklabels=False, ticks=""),
    yaxis=dict(base, type="log", range=[-1.090, 0.699], domain=ydom(34, 324), anchor="x",
               tickvals=[0.1, 1.0], ticktext=["0.10", "1.00"],
               minor=dict(tickvals=minor_log_left, ticks="outside", ticklen=2.8,
                          tickwidth=1, tickcolor="black")),
    xaxis2=dict(base, type="log", range=left_xr, domain=left_x, anchor="y2",
                tickvals=ero_xticks, ticktext=[f"{v:.1f}" for v in ero_xticks]),
    yaxis2=dict(base, range=[-2.59, 2.57], domain=ydom(324, 470), anchor="x2",
                tickvals=[-2, 0, 2], ticktext=["\u22122", "0", "2"]),
    xaxis3=dict(base, type="log", range=right_xr, domain=right_x, anchor="y3",
                showticklabels=False, ticks=""),
    yaxis3=dict(base, type="log", range=[-2.0, 0.797], domain=ydom(36, 325), anchor="x3",
                tickvals=[0.01, 0.1, 1.0], ticktext=["0.01", "0.10", "1.00"],
                minor=dict(tickvals=minor_log_right, ticks="outside", ticklen=2.8,
                           tickwidth=1, tickcolor="black")),
    xaxis4=dict(base, type="log", range=right_xr, domain=right_x, anchor="y4",
                tickvals=xmm_xticks, ticktext=[f"{v:.1f}" for v in xmm_xticks]),
    yaxis4=dict(base, range=[-3.18, 3.05], domain=ydom(325, 471.5), anchor="x4",
                tickvals=[-2, 0, 2], ticktext=["\u22122", "0", "2"]),
)

# zero lines of the residual panels
fig.add_shape(type="line", xref="x2 domain", yref="y2", x0=0, x1=1, y0=0, y1=0,
              line=dict(color="red", width=1), layer="below")
fig.add_shape(type="line", xref="x4 domain", yref="y4", x0=0, x1=1, y0=0, y1=0,
              line=dict(color="orange", width=1), layer="below")

# ---------------- legends ----------------
legend_style = dict(bgcolor="rgba(255,255,255,0.8)", bordercolor="#cccccc", borderwidth=1,
                    font=dict(family=FONT, size=11.5, color="black"),
                    tracegroupgap=0, itemwidth=30)
fig.update_layout(
    legend=dict(legend_style, x=px(86), y=py(39), xanchor="left", yanchor="top"),
    legend2=dict(legend_style, x=px(655), y=py(38), xanchor="right", yanchor="top"),
)

# compact instrument key for the XMM-Newton panel
fig.add_shape(type="rect", xref="paper", yref="paper",
              x0=px(1337), x1=px(1406), y0=py(322), y1=py(247),
              line=dict(color="#d0d0d0", width=1), fillcolor="rgba(255,255,255,0.85)",
              layer="above")
key_rows = [254, 266, 278, 290, 302, 314]
for (name, col, *_), yrow in zip(xmm_sets, key_rows):
    fig.add_annotation(x=px(1350), y=py(yrow), xref="paper", yref="paper", text="\u25c6",
                       showarrow=False, font=dict(family=FONT, size=10, color=col),
                       xanchor="center", yanchor="middle")
    fig.add_annotation(x=px(1362), y=py(yrow), xref="paper", yref="paper", text=name,
                       showarrow=False, font=dict(family=FONT, size=8.5, color="black"),
                       xanchor="left", yanchor="middle")


# ---------------- titles and axis labels ----------------
def label(text, x, y, size=14.5, angle=0):
    fig.add_annotation(x=px(x), y=py(y), xref="paper", yref="paper", text=text,
                       showarrow=False, textangle=angle,
                       font=dict(family=FONT, size=size, color="black"),
                       xanchor="center", yanchor="middle")


label("eRASS:4 X-ray spectrum", 370, 18, size=15)
label("XMM-Newton X-ray spectrum", 1121, 20, size=15)
label("Normalized counts s<sup>\u22121</sup> keV<sup>\u22121</sup>", 19, 168, angle=-90)
label("(Data-Model)/Error", 32, 400, angle=-90)
label("Energy (keV)", 370, 507)
label("Normalized counts s<sup>\u22121</sup> keV<sup>\u22121</sup>", 769, 172, angle=-90)
label("(Data-Model)/Error", 782, 398, angle=-90)
label("Energy (keV)", 1121, 510)

fig.update_layout(width=W, height=H, margin=dict(l=0, r=0, t=0, b=0),
                  paper_bgcolor="white", plot_bgcolor="white",
                  font=dict(family=FONT, color="black"))

fig.write_html("out.html", config={"displayModeBar": False})
